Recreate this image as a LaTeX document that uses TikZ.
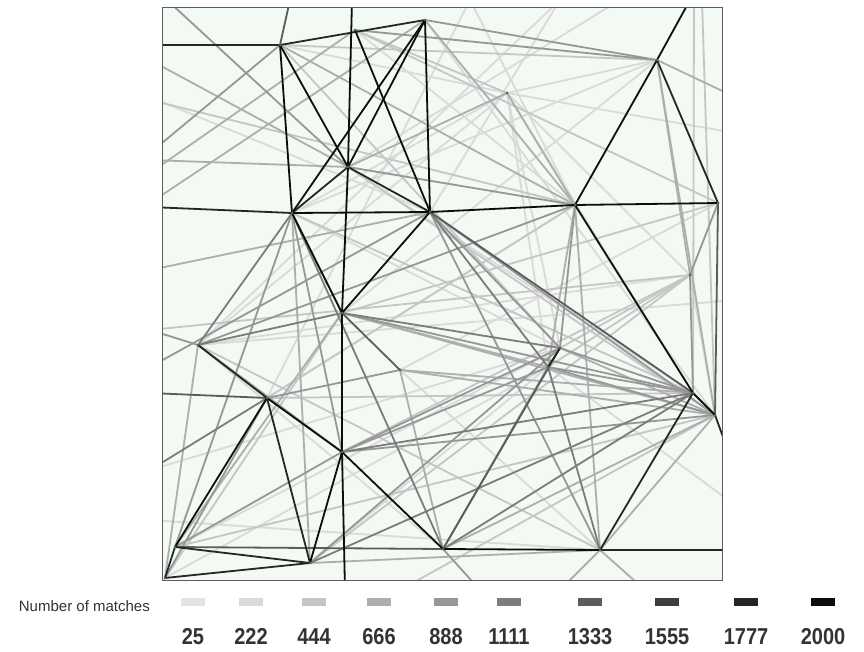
\documentclass[tikz,border=0pt]{standalone}
\usepackage{fontspec}
\setmainfont{Liberation Sans}
\newfontfamily\narrowfont[FakeStretch=0.87]{Liberation Sans}
\definecolor{c1}{HTML}{E4E4E4}
\definecolor{c2}{HTML}{DADADA}
\definecolor{c3}{HTML}{C6C6C6}
\definecolor{c4}{HTML}{AEAEAE}
\definecolor{c5}{HTML}{979797}
\definecolor{c6}{HTML}{7C7C7C}
\definecolor{c7}{HTML}{5C5C5C}
\definecolor{c8}{HTML}{3E3E3E}
\definecolor{c9}{HTML}{232823}
\definecolor{c10}{HTML}{0A0F0A}
\definecolor{bgfill}{HTML}{F3F9F3}
\definecolor{nodegreen}{HTML}{3C7A3C}
\definecolor{textgray}{HTML}{333333}
\tikzset{
  lk/.style={line width=1.8pt, color=#1, line cap=round},
  swatch/.style={fill=#1, draw=none, minimum width=24pt, minimum height=8pt, inner sep=0pt},
  numlab/.style={font=\narrowfont\bfseries\fontsize{23}{26}\selectfont, text=textgray, inner sep=0pt, anchor=base},
  vtx/.style={circle, fill=nodegreen, inner sep=0pt, minimum size=3pt}
}
\begin{document}
\begin{tikzpicture}[x=1pt,y=-1pt]
\useasboundingbox (0,0) rectangle (864,652);
% network vertices
\coordinate (a) at (280,45);
\coordinate (b) at (355,30);
\coordinate (c) at (425,20);
\coordinate (d) at (657,60);
\coordinate (e) at (348,167);
\coordinate (f) at (292,213);
\coordinate (g) at (430,212);
\coordinate (h) at (575,205);
\coordinate (i) at (718,203);
\coordinate (j) at (342,313);
\coordinate (k) at (198,345);
\coordinate (l) at (400,370);
\coordinate (m) at (560,348);
\coordinate (n) at (548,367);
\coordinate (o) at (693,393);
\coordinate (p) at (267,398);
\coordinate (q) at (342,452);
\coordinate (r) at (715,415);
\coordinate (s) at (175,547);
\coordinate (x) at (310,563);
\coordinate (t) at (443,549);
\coordinate (u) at (600,550);
\coordinate (v) at (165,578);
\coordinate (w) at (507,93);
\coordinate (y) at (690,275);
% free ends on the frame
\coordinate (T1) at (352,0);
\coordinate (T2) at (690,0);
\coordinate (T3) at (290,0);
\coordinate (T4) at (560,0);
\coordinate (T5) at (620,0);
\coordinate (T6) at (694,0);
\coordinate (T7) at (702,0);
\coordinate (T8) at (167,0);
\coordinate (T9) at (470,0);
\coordinate (B1) at (345,590);
\coordinate (B2) at (480,590);
\coordinate (B3) at (560,590);
\coordinate (B4) at (645,590);
\coordinate (B5) at (250,590);
\coordinate (B6) at (400,590);
\coordinate (L1) at (150,45);
\coordinate (L2) at (150,207);
\coordinate (L3) at (150,153);
\coordinate (L4) at (150,100);
\coordinate (L5) at (150,270);
\coordinate (L6) at (150,160);
\coordinate (L7) at (150,367);
\coordinate (L8) at (150,393);
\coordinate (L9) at (150,173);
\coordinate (L10) at (150,203);
\coordinate (L11) at (150,60);
\coordinate (L12) at (150,97);
\coordinate (L13) at (150,330);
\coordinate (L14) at (150,470);
\coordinate (L15) at (150,520);
\coordinate (R1) at (735,470);
\coordinate (R2) at (735,550);
\coordinate (R3) at (735,97);
\coordinate (R4) at (735,133);
\coordinate (R5) at (735,300);
\coordinate (R6) at (735,505);
% frame background
\fill[bgfill] (162,8) rectangle (722,580);
\begin{scope}
\clip (162,8) rectangle (722,580);
% lightest
\foreach \u/\v in {T4/g, T5/e, T9/p, L12/g, w/o, w/m, a/w, y/r, x/n, l/u, R4/w, R5/k, L14/m, L15/u, c/r, b/h, e/o, f/m, k/t, s/m, v/n, w/y, w/n, T9/h, w/k, w/f, d/f, d/j, h/p, y/k, i/l, R6/n, d/w, T4/k}
  \draw[lk=c2] (\u) -- (\v);
\foreach \u/\v in {T6/o, T7/r, L4/h, f/o, j/i, p/o, k/u, s/r, x/y, a/m, b/i, e/r, L13/y, q/y, p/h, a/d, b/w, y/m, y/n, r/B6, v/j}
  \draw[lk=c3] (\u) -- (\v);
\foreach \u/\v in {a/h, w/h, e/w, c/h, h/u, h/n, d/y, d/r, f/x, s/j, v/k, t/r, u/r, x/u, j/n, j/r, l/o, l/r, l/t, m/r, L9/b, L10/c, L11/e, L5/g, L6/e, B3/u, B4/u, R3/d}
  \draw[lk=c4] (\u) -- (\v);
\foreach \u/\v in {k/h, j/o, q/r, g/r, x/m, p/l, e/h, b/d, c/d, h/m, i/y, y/o, f/q, s/q, v/p, L13/k, k/q, q/n, q/m, t/n, n/o, m/o, n/r, L3/a, T8/e, B2/t, L7/g, g/m, g/u, s/f}
  \draw[lk=c5] (\u) -- (\v);
\foreach \u/\v in {q/o, u/n, t/o, g/n, j/m, k/f, k/j, f/t, x/o, L14/p}
  \draw[lk=c6] (\u) -- (\v);
\foreach \u/\v in {g/o, t/m, s/t, i/r, a/T3, j/l, L8/p}
  \draw[lk=c7] (\u) -- (\v);
\foreach \u/\v in {a/c, L1/a, e/f, e/g, k/p, s/x, p/x, d/i, u/o, m/n, r/R1, u/R2, L2/f, v/x, s/v}
  \draw[lk=c9] (\u) -- (\v);
\foreach \u/\v in {a/e, e/c, a/f, b/g, c/f, c/g, f/g, g/h, h/i, f/j, g/j, T1/e, e/j, j/q, q/B1, p/q, p/s, q/x, q/t, h/o, h/d, d/T2, t/u, o/r}
  \draw[lk=c10] (\u) -- (\v);
\end{scope}
% vertex marks
\foreach \z in {a,b,c,d,e,f,g,h,i,j,k,l,m,n,o,p,q,r,s,x,t,u,v,w,y}
  \node[vtx] (v\z) at (\z) {};
% frame
\draw[line width=1pt, color=c7] (162,8) rectangle (722,580);
% legend
\node[anchor=east, font=\fontsize{15}{18}\selectfont, text=textgray, inner sep=0pt] (leg) at (150,606) {Number of matches};
\foreach \cx/\cc/\lab [count=\k] in {193/c1/25, 251/c2/222, 314/c3/444, 379/c4/666, 446/c5/888, 509/c6/1111, 590/c7/1333, 667/c8/1555, 746/c9/1777, 823/c10/2000} {
  \node[swatch=\cc] (sw\k) at (\cx,602) {};
  \node[numlab] (nl\k) at (\cx,644) {\lab};
}
\end{tikzpicture}
\end{document}
